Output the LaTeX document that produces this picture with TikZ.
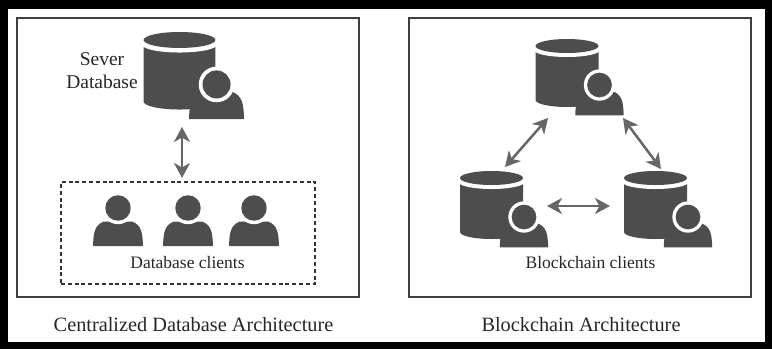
\documentclass[tikz,border=0pt]{standalone}
\usepackage{fontspec}
\setmainfont{Liberation Serif}
\usetikzlibrary{arrows.meta}
\definecolor{icon}{HTML}{4D4D4D}
\definecolor{link}{HTML}{666666}
\definecolor{ink}{HTML}{262626}
\begin{document}
\begin{tikzpicture}[
        x=1pt, y=-1pt,
        panelbox/.style={draw=black!75, line width=1.2pt, minimum width=342pt, minimum height=279pt},
        clientbox/.style={draw=black!80, line width=1.2pt, dash pattern=on 4pt off 2.8pt, minimum width=254pt, minimum height=102pt},
        label/.style={text=ink, font=\fontsize{17.5}{20}\selectfont},
        sidelabel/.style={text=ink, font=\fontsize{19.5}{23}\selectfont, align=center},
        caption/.style={text=ink, font=\fontsize{20.3}{24}\selectfont},
        twoway/.style={draw=link, line width=2.5pt, {Stealth[length=15pt, width=16pt, inset=4.5pt]}-{Stealth[length=15pt, width=16pt, inset=4.5pt]}},
        pics/person/.style={code={
          \fill[icon] (-25.5,#1) .. controls (-25,#1-14) and (-24,#1-21) .. (-15,#1-25)
            -- (15,#1-25) .. controls (24,#1-21) and (25,#1-14) .. (25.5,#1) -- cycle;
          \fill[white] (0,0) circle (16.5);
          \fill[icon] (0,0) circle (13);
        }},
        pics/dbuser/.style={code={
          \fill[icon] (-31.5,9) -- (-31.5,61) arc[start angle=180, end angle=0, x radius=31.5, y radius=7] -- (31.5,9) -- cycle;
          \fill[white] (0,11) ellipse[x radius=33, y radius=7];
          \fill[icon] (0,7) ellipse[x radius=31.5, y radius=7];
          \pic[scale=#1] at (32.5,46) {person=32};
        }}
      ]
      \fill[black] (0,0) rectangle (772,349);
      \fill[white] (8,9) rectangle (765,342);

      \node[panelbox] (central) at (188,157.5) {};
      \node[panelbox] (chain) at (580,157.5) {};
      \node[clientbox] (clients) at (188,233) {};

      \pic[scale=1.14] at (179.5,32) {dbuser=1.08};
      \pic[scale=.98] at (118,208) {person=39};
      \pic[scale=.98] at (188,208) {person=39};
      \pic[scale=.98] at (254,208) {person=39};

      \node[sidelabel] (server) at (102,71) {Sever\\Database};
      \node[label] (clientlabel) at (187.5,263) {Database clients};
      \node[caption] (centralcap) at (193.5,325) {Centralized Database Architecture};

      \pic at (567,39) {dbuser=.95};
      \pic at (491.5,171) {dbuser=.95};
      \pic at (655.5,171) {dbuser=.95};

      \node[label] (chainlabel) at (590.5,263) {Blockchain clients};
      \node[caption] (chaincap) at (581,325) {Blockchain Architecture};

      \coordinate (srvlink) at (182,127);
      \coordinate (clilink) at (182,178);
      \coordinate (topleft) at (548,118);
      \coordinate (lefttop) at (505,167);
      \coordinate (topright) at (623,118);
      \coordinate (righttop) at (661,169);
      \coordinate (leftright) at (547,206);
      \coordinate (rightleft) at (610,206);

      \draw[twoway] (srvlink) -- (clilink);
      \draw[twoway] (topleft) -- (lefttop);
      \draw[twoway] (topright) -- (righttop);
      \draw[twoway] (leftright) -- (rightleft);
    \end{tikzpicture}
\end{document}
